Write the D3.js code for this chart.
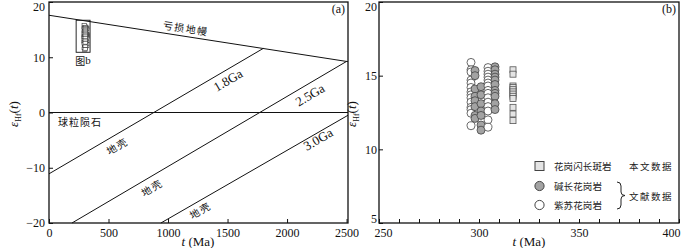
<!DOCTYPE html>
<html>
<head>
<meta charset="utf-8">
<script src="https://cdn.jsdelivr.net/npm/d3@7"></script>
<style>
body { margin: 0; background: #fff; }
</style>
</head>
<body>
<svg id="chart" width="700" height="248"></svg>
<script>
// panel (a): evolution lines, [t (Ma), epsHf]
var dmLine = [[0, 17.6], [2512, 9.2]];
var chondLine = [[0, 0], [2512, 0]];
var crust18 = [[0, -11.1], [1800, 11.6]];
var crust25 = [[193, -20], [2500, 9.25]];
var crust30 = [[940, -20], [2512, -0.5]];
var figbBox = [[228, 16.7], [345, 10.9]];

// panel (b): zircon epsHf(t)
var porphAge = 317;
var porphEps = [15.4, 15.1, 14.3, 14.2, 14.05, 13.9, 13.75, 13.6, 13.45, 12.85, 12.4, 11.95];
var alkAges = [298, 301, 308];
var alkEps = [
    [15.35, 15.0, 14.1, 13.6, 13.3, 12.9, 12.3, 12.1],
    [14.25, 13.7, 13.1, 12.6, 12.3, 11.65, 11.3],
    [15.6, 15.4, 15.1, 14.9, 14.7, 14.4, 14.0, 13.8, 13.6, 13.1, 12.7]
];
var charnAges = [296, 304.5];
var charnEps = [
    [15.9, 15.4, 15.25, 14.7, 14.5, 14.2, 13.9, 13.7, 13.5, 13.2, 12.85, 12.7, 12.45, 11.6],
    [15.55, 15.3, 15.1, 14.9, 14.7, 14.5, 14.3, 14.0, 13.8, 13.5, 13.2, 12.9, 12.6, 12.0, 11.5]
];

var xTicksA = [0, 500, 1000, 1500, 2000, 2500];
var yTicksA = [-20, -10, 0, 10, 20];
var xTicksB = d3.range(250, 401, 10);
var yTicksB = [5, 10, 15, 20];

var legendNames = ["花岗闪长斑岩", "碱长花岗岩", "紫苏花岗岩"];

var serif = "'Liberation Serif', 'DejaVu Serif', serif";
var cjk = "'Noto Sans CJK SC', sans-serif";

var svg = d3.select("#chart");

var xA = d3.scaleLinear().domain([0, 2512]).range([49, 348]);
var yA = d3.scaleLinear().domain([-20, 20]).range([223, 2]);
var xB = d3.scaleLinear().domain([250, 400]).range([379, 679]);
var yB = d3.scaleLinear().domain([5, 20]).range([223, 2]);

function styleAxis(g, size) {
    g.attr("font-family", serif).attr("font-size", size);
    g.select(".domain").remove();
    g.selectAll("line").attr("stroke", "#111");
    g.selectAll("text").attr("fill", "#111");
}

function frame(x, y) {
    svg.append("rect")
        .attr("x", x.range()[0]).attr("y", y.range()[1])
        .attr("width", x.range()[1] - x.range()[0])
        .attr("height", y.range()[0] - y.range()[1])
        .attr("fill", "none").attr("stroke", "#111").attr("stroke-width", 1.3);
}

function yLabel(cx, cy) {
    var t = svg.append("text")
        .attr("transform", "translate(" + cx + "," + cy + ") rotate(-90)")
        .attr("text-anchor", "middle")
        .attr("font-family", serif).attr("font-size", 13).attr("fill", "#111");
    t.append("tspan").attr("font-style", "italic").text("ε");
    t.append("tspan").attr("font-size", 8).attr("dy", 3).text("Hf");
    t.append("tspan").attr("dy", -3).text("(");
    t.append("tspan").attr("font-style", "italic").text("t");
    t.append("tspan").text(")");
}

function xLabel(cx, y) {
    var t = svg.append("text")
        .attr("x", cx).attr("y", y)
        .attr("text-anchor", "middle")
        .attr("font-family", serif).attr("font-size", 13).attr("fill", "#111");
    t.append("tspan").attr("font-style", "italic").text("t");
    t.append("tspan").text(" (Ma)");
}

// nudge end labels so they do not collide or run off the top
function nudge(g, shifts) {
    g.selectAll(".tick text").each(function (d) {
        if (shifts[d]) {
            d3.select(this)
                .attr("dx", shifts[d][0])
                .attr("transform", "translate(0," + shifts[d][1] + ")");
        }
    });
}

// ---------- panel (a) ----------
svg.append("g")
    .attr("transform", "translate(0," + yA(-20) + ")")
    .call(d3.axisBottom(xA).tickValues(xTicksA).tickFormat(d3.format("d"))
        .tickSizeInner(-4).tickSizeOuter(0).tickPadding(5))
    .call(styleAxis, 12);

svg.append("g")
    .attr("transform", "translate(" + xA(0) + ",0)")
    .call(d3.axisLeft(yA).tickValues(yTicksA).tickSizeInner(-4).tickSizeOuter(0).tickPadding(4))
    .call(styleAxis, 12)
    .call(nudge, { 20: [0, 5] });

var lineA = d3.line()
    .x(function (d) { return xA(d[0]); })
    .y(function (d) { return yA(d[1]); });

[dmLine, chondLine, crust18, crust25, crust30].forEach(function (l) {
    svg.append("path")
        .datum(l)
        .attr("fill", "none")
        .attr("stroke", "#111")
        .attr("stroke-width", 1)
        .attr("d", lineA);
});

function lineLabel(pts, t, txt, off, font, size, spacing) {
    var x0 = xA(pts[0][0]), y0 = yA(pts[0][1]);
    var x1 = xA(pts[1][0]), y1 = yA(pts[1][1]);
    var f = (t - pts[0][0]) / (pts[1][0] - pts[0][0]);
    var px = x0 + f * (x1 - x0), py = y0 + f * (y1 - y0);
    var ang = Math.atan2(y1 - y0, x1 - x0) * 180 / Math.PI;
    svg.append("text")
        .attr("transform", "translate(" + px + "," + py + ") rotate(" + ang + ")")
        .attr("y", off)
        .attr("text-anchor", "middle")
        .attr("dominant-baseline", "central")
        .attr("font-family", font).attr("font-size", size)
        .attr("letter-spacing", spacing)
        .attr("fill", "#111")
        .text(txt);
}

lineLabel(dmLine, 1139, "亏损地幔", -8.7, cjk, 10, 1.5);
lineLabel(crust18, 1463, "1.8Ga", 9.5, serif, 13, 0);
lineLabel(crust25, 2149, "2.5Ga", 10.3, serif, 13, 0);
lineLabel(crust30, 2237, "3.0Ga", 5.8, serif, 13, 0);
lineLabel(crust18, 528, "地壳", 10, cjk, 10, 1.5);
lineLabel(crust25, 822, "地壳", 9.6, cjk, 10, 1.5);
lineLabel(crust30, 1234, "地壳", 8.2, cjk, 10, 1.5);

svg.append("text")
    .attr("x", xA(75)).attr("y", yA(0) + 9)
    .attr("dominant-baseline", "central")
    .attr("font-family", cjk).attr("font-size", 10).attr("letter-spacing", 1)
    .attr("fill", "#111")
    .text("球粒陨石");

// box that marks panel (b)
svg.append("rect")
    .attr("x", xA(figbBox[0][0])).attr("y", yA(figbBox[0][1]))
    .attr("width", xA(figbBox[1][0]) - xA(figbBox[0][0]))
    .attr("height", yA(figbBox[1][1]) - yA(figbBox[0][1]))
    .attr("fill", "none").attr("stroke", "#111").attr("stroke-width", 0.9);

svg.append("text")
    .attr("x", (xA(figbBox[0][0]) + xA(figbBox[1][0])) / 2)
    .attr("y", yA(figbBox[1][1]) + 8)
    .attr("text-anchor", "middle").attr("dominant-baseline", "central")
    .attr("fill", "#111")
    .call(function (t) {
        t.append("tspan").attr("font-family", cjk).attr("font-size", 10).text("图");
        t.append("tspan").attr("font-family", serif).attr("font-size", 11).text("b");
    });

// all data squeezed into panel (a) as small boxes
var allPts = [];
porphEps.forEach(function (e) { allPts.push([porphAge, e]); });
alkAges.forEach(function (a, i) { alkEps[i].forEach(function (e) { allPts.push([a, e]); }); });
charnAges.forEach(function (a, i) { charnEps[i].forEach(function (e) { allPts.push([a, e]); }); });

svg.selectAll(".miniPt")
    .data(allPts)
    .enter()
    .append("rect")
    .attr("class", "miniPt")
    .attr("x", function (d) { return xA(d[0]) - 2.2; })
    .attr("y", function (d) { return yA(d[1]) - 1.3; })
    .attr("width", 4.4).attr("height", 2.6)
    .attr("fill", "#fff").attr("stroke", "#333").attr("stroke-width", 0.6);

frame(xA, yA);
yLabel(18, 114);
xLabel(198, 246);

svg.append("text")
    .attr("x", 345).attr("y", 13).attr("text-anchor", "end")
    .attr("font-family", serif).attr("font-size", 12).attr("fill", "#111")
    .text("(a)");

// ---------- panel (b) ----------
svg.append("g")
    .attr("transform", "translate(0," + yB(5) + ")")
    .call(d3.axisBottom(xB).tickValues(xTicksB).tickSizeInner(-4).tickSizeOuter(0).tickPadding(5)
        .tickFormat(function (d) { return d % 50 === 0 ? d : ""; }))
    .call(styleAxis, 12)
    .call(nudge, { 250: [4, 0], 400: [-8, 0] });

svg.append("g")
    .attr("transform", "translate(" + xB(250) + ",0)")
    .call(d3.axisLeft(yB).tickValues(yTicksB).tickSizeInner(-4).tickSizeOuter(0).tickPadding(2))
    .call(styleAxis, 12)
    .call(nudge, { 5: [0, -4], 20: [0, 5] });

function drawCircles(ages, eps, fill) {
    ages.forEach(function (a, i) {
        svg.selectAll(null)
            .data(eps[i])
            .enter()
            .append("circle")
            .attr("cx", xB(a))
            .attr("cy", function (d) { return yB(d); })
            .attr("r", 4)
            .attr("fill", fill)
            .attr("stroke", "#444")
            .attr("stroke-width", 0.8);
    });
}

drawCircles([charnAges[0]], [charnEps[0]], "#fff");
drawCircles([alkAges[0], alkAges[1]], [alkEps[0], alkEps[1]], "#a3a3a3");
drawCircles([charnAges[1]], [charnEps[1]], "#fff");
drawCircles([alkAges[2]], [alkEps[2]], "#a3a3a3");

svg.selectAll(".sq")
    .data(porphEps)
    .enter()
    .append("rect")
    .attr("class", "sq")
    .attr("x", xB(porphAge) - 3)
    .attr("y", function (d) { return yB(d) - 3; })
    .attr("width", 6).attr("height", 6)
    .attr("fill", "#e4e4e4").attr("stroke", "#555").attr("stroke-width", 0.8);

// legend
var legY = [166, 186, 205];
svg.append("rect")
    .attr("x", 535).attr("y", legY[0] - 4.5).attr("width", 9).attr("height", 9)
    .attr("fill", "#e4e4e4").attr("stroke", "#444").attr("stroke-width", 1);
svg.append("circle").attr("cx", 539.5).attr("cy", legY[1]).attr("r", 4.6)
    .attr("fill", "#a3a3a3").attr("stroke", "#444").attr("stroke-width", 1);
svg.append("circle").attr("cx", 539.5).attr("cy", legY[2]).attr("r", 4.6)
    .attr("fill", "#fff").attr("stroke", "#444").attr("stroke-width", 1);

svg.selectAll(".legTxt")
    .data(legendNames)
    .enter()
    .append("text")
    .attr("class", "legTxt")
    .attr("x", 554)
    .attr("y", function (d, i) { return legY[i]; })
    .attr("dominant-baseline", "central")
    .attr("font-family", cjk).attr("font-size", 9.5).attr("letter-spacing", 0.1)
    .attr("fill", "#222")
    .text(function (d) { return d; });

svg.append("text")
    .attr("x", 629).attr("y", legY[0])
    .attr("dominant-baseline", "central")
    .attr("font-family", cjk).attr("font-size", 9.5).attr("letter-spacing", 1.5)
    .attr("fill", "#222").text("本文数据");

svg.append("text")
    .attr("x", 629).attr("y", 195.5)
    .attr("dominant-baseline", "central")
    .attr("font-family", cjk).attr("font-size", 9.5).attr("letter-spacing", 1.5)
    .attr("fill", "#222").text("文献数据");

svg.append("path")
    .attr("d", "M617,182 Q621,182 621,186 L621,192 Q621,195.5 625,195.5 Q621,195.5 621,199 L621,205 Q621,209 617,209")
    .attr("fill", "none").attr("stroke", "#222").attr("stroke-width", 1);

frame(xB, yB);
yLabel(356, 114);
xLabel(529, 246);

svg.append("text")
    .attr("x", 676).attr("y", 13).attr("text-anchor", "end")
    .attr("font-family", serif).attr("font-size", 12).attr("fill", "#111")
    .text("(b)");
</script>
</body>
</html>
